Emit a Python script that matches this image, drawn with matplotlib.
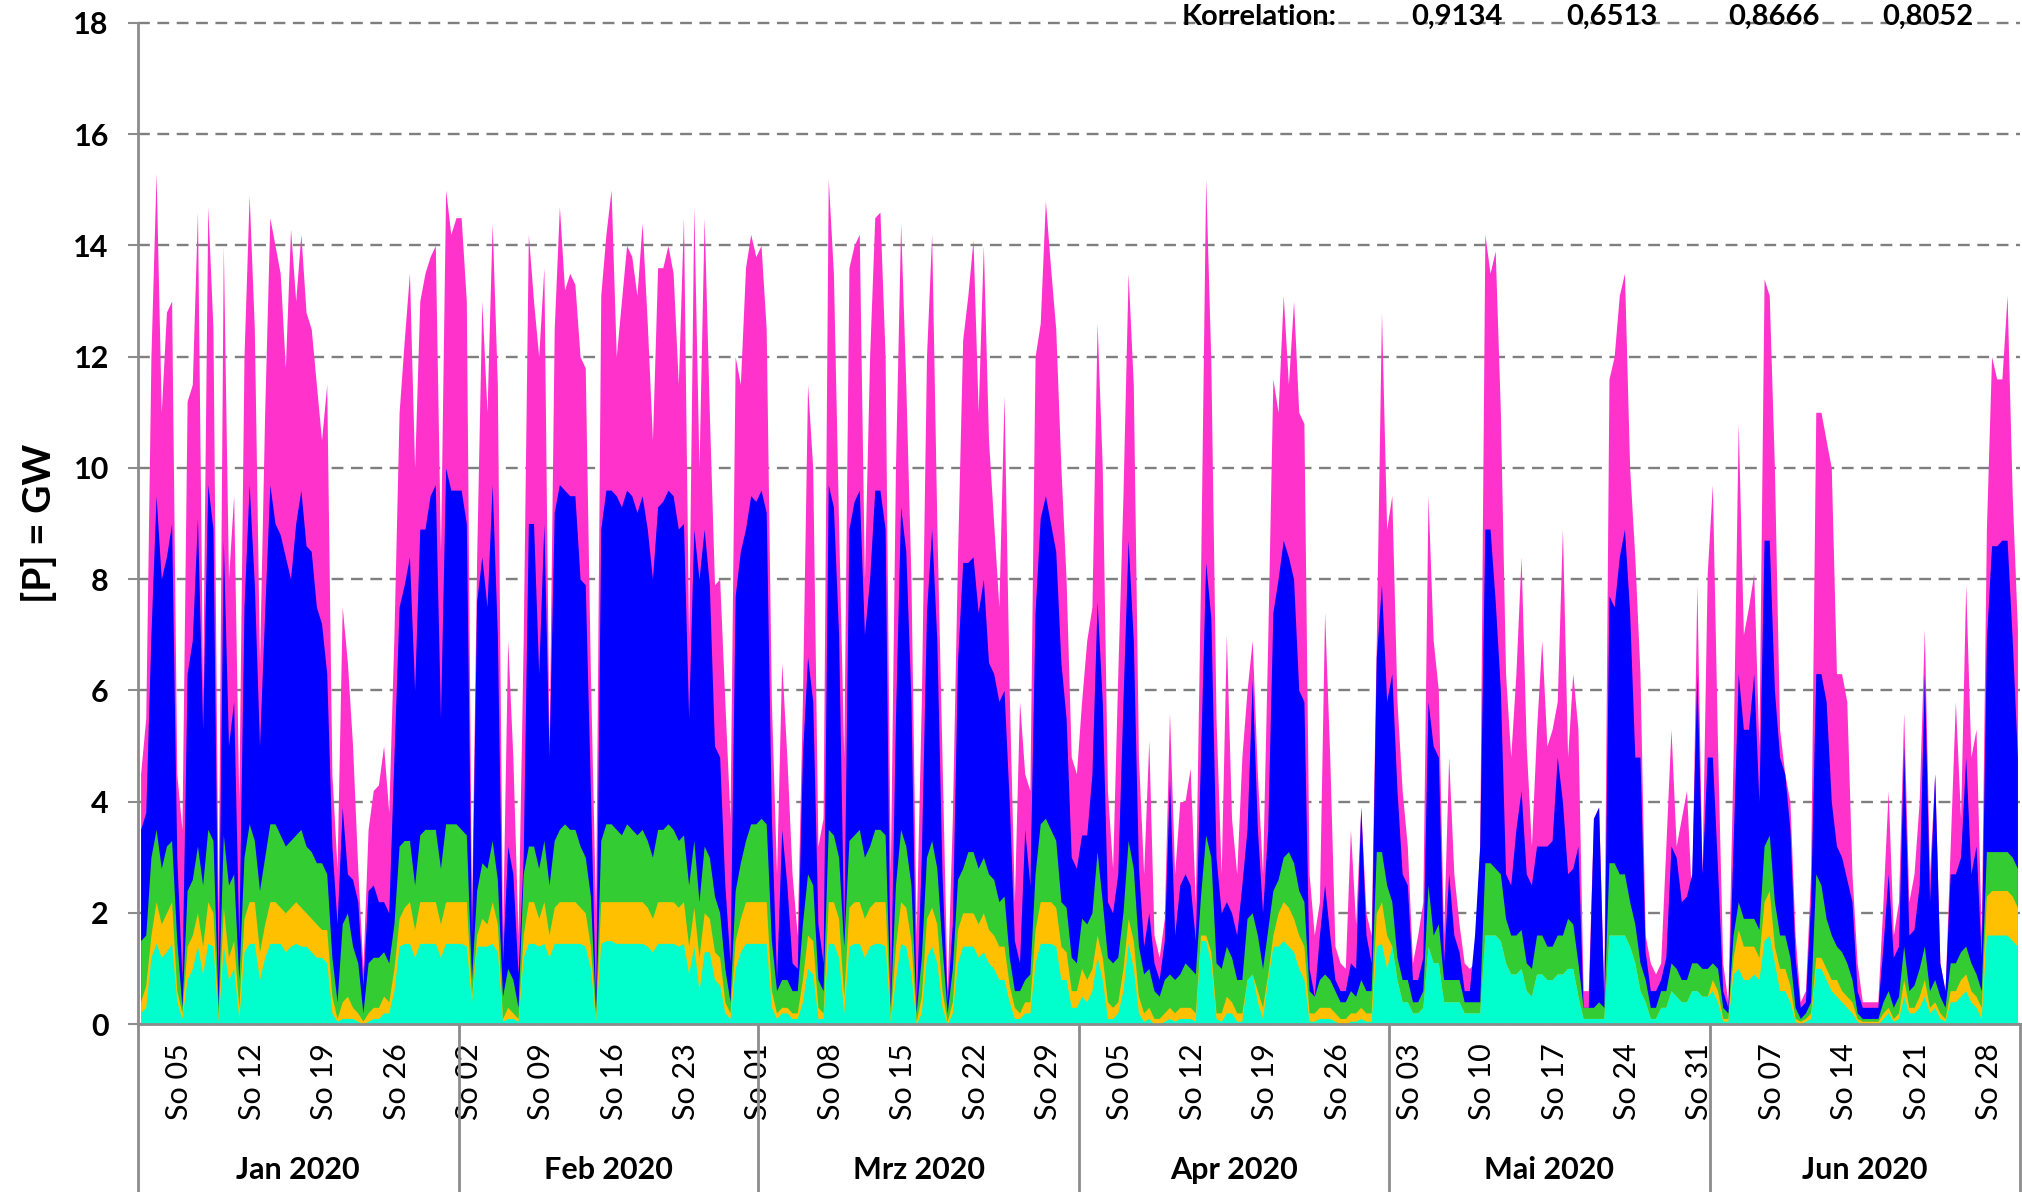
import matplotlib
matplotlib.use("Agg")
import matplotlib.dates as mdates
import numpy as np
import pandas as pd
from matplotlib import pyplot as plt
from matplotlib import transforms

plt.rcParams['font.family'] = ['Lato', 'DejaVu Sans']

# Obergrenzen der gestapelten Flaechen in GW, zwei Werte pro Tag (vormittags, nachmittags)
spitze_pink = [
    # Jan
    4.5, 5.5, 12.0, 15.3, 11.0, 12.8, 13.0, 4.5, 3.5, 11.2, 11.5, 14.6, 6.0, 14.7, 12.5, 2.0,
    14.0, 8.0, 9.5, 4.0, 12.0, 14.9, 12.5, 6.5, 11.0, 14.5, 14.0, 13.5, 11.8, 14.3, 13.0, 14.2,
    12.8, 12.5, 11.5, 10.5, 11.5, 4.5, 2.8, 7.5, 6.5, 5.0, 2.8, 1.0, 3.5, 4.2, 4.3, 5.0,
    3.8, 7.0, 11.0, 12.3, 13.5, 10.0, 13.0, 13.5, 13.8, 14.0, 8.5, 15.0, 14.2, 14.5,
    # Feb
    14.5, 13.0, 2.0, 8.4, 13.0, 11.0, 14.4, 11.5, 1.6, 6.9, 4.8, 1.6, 6.9, 14.2, 13.0, 12.0,
    13.6, 5.0, 12.5, 14.7, 13.2, 13.5, 13.3, 12.0, 11.8, 6.3, 2.0, 13.1, 14.2, 15.0, 12.0, 13.0,
    14.0, 13.8, 13.1, 14.4, 12.6, 10.5, 13.6, 13.6, 14.0, 13.5, 11.5, 14.5, 6.9, 14.7, 10.0, 14.5,
    11.0, 7.9, 8.0, 5.8, 3.7, 12.0, 11.5, 13.6, 14.2, 13.8,
    # Mrz
    14.0, 12.5, 5.8, 2.7, 6.5, 4.8, 2.7, 1.6, 5.8, 11.5, 10.0, 3.2, 3.7, 15.2, 13.5, 9.0,
    4.8, 13.6, 14.0, 14.2, 8.0, 12.0, 14.5, 14.6, 12.0, 2.7, 10.0, 14.4, 11.5, 8.0, 1.6, 5.8,
    12.0, 14.2, 9.0, 4.8, 0.6, 3.7, 8.4, 12.3, 13.1, 14.1, 11.0, 14.0, 10.5, 9.0, 7.5, 11.3,
    6.0, 2.2, 5.8, 4.5, 4.2, 12.0, 12.6, 14.8, 13.6, 12.5, 10.0, 8.0, 4.8, 4.5,
    # Apr
    5.8, 6.9, 7.5, 12.6, 10.0, 4.2, 2.8, 6.3, 9.5, 13.5, 11.5, 4.8, 2.7, 5.1, 1.6, 1.2,
    1.9, 5.6, 2.7, 4.0, 4.0, 4.6, 2.2, 8.0, 15.2, 11.9, 5.5, 2.7, 7.0, 3.7, 2.7, 4.8,
    6.0, 6.9, 4.5, 2.7, 6.9, 11.6, 11.0, 13.1, 11.5, 13.0, 11.0, 10.8, 2.7, 1.6, 2.2, 7.4,
    4.8, 1.4, 1.1, 1.0, 3.5, 1.8, 3.9, 2.0, 1.6, 6.9, 12.8, 8.9,
    # Mai
    9.5, 5.8, 4.2, 3.2, 1.1, 1.6, 2.2, 9.5, 6.9, 6.0, 1.6, 4.8, 2.7, 1.8, 1.1, 1.0,
    1.1, 3.2, 14.2, 13.5, 13.9, 11.0, 6.3, 4.8, 6.3, 8.4, 5.0, 3.2, 5.3, 6.9, 5.0, 5.3,
    5.8, 8.9, 4.8, 6.3, 5.3, 0.6, 0.6, 3.7, 3.9, 0.6, 11.6, 12.0, 13.1, 13.5, 10.0, 8.4,
    6.3, 1.6, 1.1, 0.9, 1.1, 3.2, 5.3, 3.2, 3.7, 4.2, 2.2, 7.9, 2.7, 8.1,
    # Jun
    9.7, 5.0, 1.1, 0.4, 4.8, 10.8, 7.0, 7.5, 8.1, 5.0, 13.4, 13.1, 10.0, 5.3, 4.5, 4.0,
    1.6, 0.4, 0.6, 2.7, 11.0, 11.0, 10.5, 10.0, 6.3, 6.3, 5.8, 2.7, 1.1, 0.4, 0.4, 0.4,
    0.4, 2.2, 4.2, 1.6, 2.2, 5.6, 2.2, 2.7, 4.0, 7.1, 2.7, 4.5, 1.1, 0.6, 3.2, 5.8,
    3.7, 7.9, 4.8, 5.3, 1.6, 8.9, 12.0, 11.6, 11.6, 13.1, 9.5, 7.1,
]

spitze_blau = [
    # Jan
    3.5, 3.8, 7.0, 9.5, 8.0, 8.4, 9.0, 3.0, 0.8, 6.3, 6.9, 9.1, 5.3, 9.7, 8.9, 0.8,
    8.7, 5.0, 5.8, 1.5, 7.5, 9.7, 7.9, 5.0, 7.4, 9.7, 9.0, 8.8, 8.4, 8.0, 9.0, 9.6,
    8.6, 8.5, 7.5, 7.2, 6.3, 3.2, 1.8, 3.9, 2.7, 2.6, 2.2, 0.7, 2.4, 2.5, 2.2, 2.2,
    2.0, 4.8, 7.5, 7.9, 8.4, 6.0, 8.9, 8.9, 9.5, 9.7, 5.5, 10.0, 9.6, 9.6,
    # Feb
    9.6, 9.0, 1.5, 7.6, 8.4, 7.5, 9.7, 7.0, 1.1, 3.2, 2.7, 0.9, 3.0, 9.0, 9.0, 6.3,
    9.0, 4.8, 9.2, 9.7, 9.6, 9.5, 9.5, 8.0, 7.9, 4.2, 0.3, 8.9, 9.6, 9.6, 9.5, 9.3,
    9.6, 9.5, 9.2, 9.5, 8.9, 8.0, 9.3, 9.4, 9.6, 9.5, 8.9, 9.0, 5.5, 8.9, 8.0, 8.9,
    7.9, 5.0, 4.8, 2.5, 1.1, 7.7, 8.5, 8.9, 9.5, 9.4,
    # Mrz
    9.6, 9.2, 3.7, 0.8, 3.5, 2.5, 1.1, 1.0, 4.8, 6.6, 5.8, 1.8, 1.1, 9.7, 9.3, 7.0,
    1.6, 8.9, 9.4, 9.6, 7.0, 8.0, 9.6, 9.6, 8.9, 0.4, 5.5, 9.3, 8.5, 5.8, 0.3, 3.0,
    7.4, 8.9, 6.9, 2.7, 0.4, 1.8, 6.5, 8.3, 8.3, 8.4, 7.4, 8.0, 6.5, 6.3, 5.8, 6.0,
    4.0, 1.5, 1.1, 3.5, 2.5, 7.4, 9.1, 9.5, 9.0, 8.5, 6.5, 5.5, 3.0, 2.8,
    # Apr
    3.4, 3.4, 4.5, 7.6, 5.8, 2.2, 2.0, 2.7, 5.8, 8.7, 6.9, 2.8, 1.4, 2.0, 1.1, 0.8,
    1.5, 4.4, 1.6, 2.5, 2.7, 2.5, 1.5, 4.8, 8.3, 7.3, 3.0, 2.0, 2.2, 2.0, 1.6, 2.5,
    3.5, 6.2, 3.5, 2.0, 3.5, 7.4, 8.0, 8.7, 8.4, 8.0, 6.0, 5.8, 1.0, 0.5, 1.6, 2.5,
    1.6, 0.8, 0.6, 0.6, 1.1, 1.0, 3.9, 1.6, 1.1, 6.6, 7.9, 5.8,
    # Mai
    6.3, 4.2, 2.7, 2.5, 0.8, 0.8, 1.2, 5.8, 5.0, 4.8, 1.1, 2.7, 1.6, 1.3, 0.6, 0.6,
    1.6, 3.2, 8.9, 8.9, 7.6, 6.0, 2.7, 2.5, 3.5, 4.2, 2.7, 2.5, 3.2, 3.2, 3.2, 3.3,
    4.8, 4.0, 2.7, 2.8, 3.2, 0.3, 0.3, 3.7, 3.9, 0.4, 7.7, 7.5, 8.4, 8.9, 7.4, 4.8,
    4.8, 1.3, 0.6, 0.6, 0.8, 1.2, 3.2, 3.0, 2.2, 2.3, 2.7, 6.3, 2.7, 4.8,
    # Jun
    4.8, 2.8, 0.6, 0.3, 3.2, 6.3, 5.3, 5.3, 6.3, 4.0, 8.7, 8.7, 6.0, 4.8, 4.5, 3.5,
    1.2, 0.3, 0.4, 2.2, 6.3, 6.3, 5.8, 4.0, 3.2, 3.0, 2.6, 2.2, 0.6, 0.3, 0.3, 0.3,
    0.3, 1.4, 2.7, 1.2, 1.4, 5.0, 1.6, 1.7, 2.5, 6.3, 2.2, 4.5, 1.1, 0.6, 2.7, 2.7,
    3.0, 4.8, 2.7, 3.2, 1.2, 6.9, 8.6, 8.6, 8.7, 8.7, 6.9, 4.8,
]

spitze_gruen = [
    # Jan
    1.5, 1.6, 3.0, 3.5, 2.8, 3.2, 3.3, 1.5, 0.3, 2.4, 2.6, 3.2, 2.5, 3.5, 3.3, 0.3,
    3.4, 2.5, 2.7, 0.8, 3.0, 3.6, 3.3, 2.4, 3.0, 3.6, 3.6, 3.4, 3.2, 3.3, 3.4, 3.5,
    3.2, 3.1, 2.9, 2.9, 2.7, 1.2, 0.4, 1.8, 2.0, 1.4, 1.1, 0.2, 1.1, 1.2, 1.2, 1.3,
    1.1, 1.8, 3.2, 3.3, 3.3, 2.5, 3.4, 3.5, 3.5, 3.5, 2.8, 3.6, 3.6, 3.6,
    # Feb
    3.5, 3.4, 0.8, 2.4, 2.9, 2.8, 3.3, 2.6, 0.5, 1.0, 0.8, 0.3, 2.7, 3.2, 3.2, 2.8,
    3.3, 2.5, 3.3, 3.5, 3.6, 3.5, 3.5, 3.2, 3.0, 2.3, 0.2, 3.3, 3.6, 3.6, 3.5, 3.4,
    3.6, 3.5, 3.4, 3.5, 3.3, 3.0, 3.5, 3.5, 3.6, 3.5, 3.3, 3.4, 2.5, 3.3, 2.2, 3.2,
    3.0, 2.3, 2.0, 1.0, 0.4, 2.4, 2.9, 3.3, 3.6, 3.6,
    # Mrz
    3.7, 3.6, 1.5, 0.6, 0.8, 0.8, 0.6, 0.6, 1.8, 2.7, 2.5, 0.8, 0.6, 3.5, 3.4, 3.0,
    1.4, 3.3, 3.4, 3.5, 3.0, 3.2, 3.5, 3.5, 3.4, 0.3, 2.5, 3.5, 3.2, 2.5, 0.2, 1.2,
    3.0, 3.3, 2.8, 1.4, 0.2, 1.0, 2.6, 2.8, 3.1, 3.1, 2.8, 3.0, 2.7, 2.6, 2.2, 2.3,
    1.2, 0.6, 0.6, 0.8, 0.9, 2.7, 3.6, 3.7, 3.5, 3.3, 2.2, 2.1, 1.2, 1.1,
    # Apr
    1.9, 1.8, 2.0, 3.1, 2.2, 1.2, 1.1, 1.2, 2.0, 3.3, 2.8, 1.4, 0.9, 1.0, 0.6, 0.5,
    0.8, 0.9, 0.8, 0.9, 1.1, 1.0, 0.9, 2.3, 3.4, 3.0, 1.1, 1.0, 1.4, 1.2, 0.8, 0.8,
    1.9, 2.0, 1.6, 1.0, 1.7, 2.4, 2.6, 3.0, 3.1, 2.9, 2.4, 2.2, 0.6, 0.5, 0.8, 0.9,
    0.8, 0.6, 0.4, 0.4, 0.6, 0.5, 0.8, 0.6, 0.6, 3.1, 3.1, 2.5,
    # Mai
    2.2, 1.2, 0.8, 0.8, 0.4, 0.4, 0.6, 2.5, 1.6, 1.8, 0.8, 0.8, 0.8, 0.8, 0.4, 0.4,
    0.4, 0.4, 2.9, 2.9, 2.8, 2.7, 1.9, 1.6, 1.6, 1.7, 1.1, 1.0, 1.6, 1.6, 1.4, 1.4,
    1.6, 1.6, 1.9, 1.8, 1.1, 0.3, 0.3, 0.3, 0.4, 0.3, 2.9, 2.9, 2.7, 2.7, 2.2, 1.8,
    1.1, 0.8, 0.3, 0.3, 0.6, 0.6, 1.1, 1.0, 0.8, 0.8, 1.1, 1.1, 1.0, 1.0,
    # Jun
    1.1, 1.0, 0.3, 0.2, 1.6, 2.2, 1.9, 1.9, 1.9, 1.7, 3.2, 3.4, 2.2, 1.6, 1.6, 1.2,
    0.3, 0.1, 0.2, 0.4, 2.7, 2.5, 1.9, 1.6, 1.4, 1.3, 1.1, 0.8, 0.2, 0.1, 0.1, 0.1,
    0.1, 0.4, 0.6, 0.3, 0.5, 1.4, 0.6, 0.7, 1.0, 1.4, 0.6, 0.8, 0.5, 0.3, 1.1, 1.1,
    1.3, 1.4, 1.1, 0.9, 0.6, 3.1, 3.1, 3.1, 3.1, 3.1, 3.0, 2.8,
]

spitze_orange = [
    # Jan
    0.4, 0.7, 1.6, 2.2, 1.8, 2.0, 2.2, 0.6, 0.2, 1.4, 1.6, 2.0, 1.4, 2.2, 2.0, 0.1,
    2.1, 1.2, 1.5, 0.3, 1.9, 2.2, 2.2, 1.3, 1.8, 2.2, 2.2, 2.1, 2.0, 2.1, 2.2, 2.1,
    2.0, 1.9, 1.8, 1.7, 1.7, 0.5, 0.1, 0.4, 0.5, 0.3, 0.2, 0.05, 0.2, 0.3, 0.3, 0.5,
    0.4, 1.0, 1.9, 2.1, 2.2, 1.7, 2.2, 2.2, 2.2, 2.2, 1.8, 2.2, 2.2, 2.2,
    # Feb
    2.2, 2.2, 0.5, 1.6, 1.9, 1.8, 2.2, 1.8, 0.1, 0.3, 0.2, 0.1, 1.6, 2.2, 2.2, 1.9,
    2.2, 1.6, 2.1, 2.2, 2.2, 2.2, 2.2, 2.1, 2.0, 1.4, 0.1, 2.2, 2.2, 2.2, 2.2, 2.2,
    2.2, 2.2, 2.2, 2.2, 2.1, 1.9, 2.2, 2.2, 2.2, 2.2, 2.1, 2.2, 1.4, 2.1, 1.2, 2.0,
    1.9, 1.3, 1.2, 0.4, 0.2, 1.5, 1.9, 2.2, 2.2, 2.2,
    # Mrz
    2.2, 2.2, 0.6, 0.2, 0.3, 0.3, 0.2, 0.2, 0.8, 1.6, 1.5, 0.3, 0.2, 2.2, 2.2, 1.9,
    0.5, 2.1, 2.2, 2.2, 1.9, 2.1, 2.2, 2.2, 2.2, 0.1, 1.4, 2.2, 2.1, 1.5, 0.05, 0.5,
    1.9, 2.1, 1.8, 0.6, 0.05, 0.4, 1.7, 2.0, 2.0, 2.0, 1.8, 2.0, 1.7, 1.6, 1.4, 1.4,
    0.7, 0.3, 0.2, 0.4, 0.4, 1.7, 2.2, 2.2, 2.2, 2.1, 1.4, 1.3, 0.6, 0.6,
    # Apr
    1.0, 0.8, 1.0, 1.6, 1.2, 0.4, 0.3, 0.4, 1.0, 1.9, 1.5, 0.5, 0.2, 0.3, 0.1, 0.1,
    0.2, 0.3, 0.2, 0.3, 0.3, 0.3, 0.2, 1.6, 1.6, 1.3, 0.2, 0.2, 0.5, 0.4, 0.2, 0.2,
    0.8, 0.9, 0.6, 0.3, 0.9, 1.6, 2.0, 2.2, 2.1, 1.9, 1.6, 1.4, 0.2, 0.2, 0.3, 0.3,
    0.3, 0.2, 0.1, 0.1, 0.2, 0.2, 0.3, 0.2, 0.2, 2.0, 2.2, 1.6,
    # Mai (keine orange Flaeche sichtbar)
    1.4, 0.8, 0.4, 0.4, 0.2, 0.2, 0.3, 1.4, 1.1, 1.1, 0.4, 0.4, 0.4, 0.4, 0.2, 0.2,
    0.2, 0.2, 1.6, 1.6, 1.6, 1.5, 1.1, 0.9, 0.9, 1.0, 0.6, 0.5, 0.9, 0.9, 0.8, 0.8,
    0.9, 0.9, 1.0, 1.0, 0.5, 0.1, 0.1, 0.1, 0.1, 0.1, 1.6, 1.6, 1.6, 1.6, 1.4, 1.1,
    0.6, 0.4, 0.1, 0.1, 0.3, 0.3, 0.6, 0.5, 0.4, 0.4, 0.6, 0.6, 0.5, 0.5,
    # Jun
    0.8, 0.6, 0.1, 0.1, 1.2, 1.7, 1.4, 1.4, 1.4, 1.2, 2.2, 2.4, 1.4, 1.0, 1.0, 0.7,
    0.1, 0.05, 0.1, 0.2, 1.2, 1.2, 1.0, 0.8, 0.8, 0.6, 0.5, 0.4, 0.1, 0.05, 0.05, 0.05,
    0.05, 0.2, 0.3, 0.1, 0.2, 0.8, 0.3, 0.3, 0.5, 0.8, 0.3, 0.4, 0.2, 0.1, 0.6, 0.6,
    0.8, 0.9, 0.6, 0.5, 0.3, 2.3, 2.4, 2.4, 2.4, 2.4, 2.3, 2.1,
]

spitze_tuerkis = [
    # Jan
    0.2, 0.3, 1.2, 1.45, 1.2, 1.3, 1.45, 0.4, 0.1, 0.8, 1.0, 1.4, 0.9, 1.45, 1.4, 0.05,
    1.4, 0.8, 1.0, 0.1, 1.3, 1.45, 1.45, 0.8, 1.2, 1.45, 1.45, 1.45, 1.3, 1.4, 1.45, 1.4,
    1.4, 1.3, 1.2, 1.2, 1.1, 0.2, 0.05, 0.1, 0.1, 0.1, 0.05, 0.0, 0.05, 0.1, 0.1, 0.2,
    0.2, 0.6, 1.4, 1.45, 1.45, 1.2, 1.45, 1.45, 1.45, 1.45, 1.2, 1.45, 1.45, 1.45,
    # Feb
    1.45, 1.4, 0.4, 1.4, 1.4, 1.4, 1.45, 1.3, 0.05, 0.1, 0.1, 0.05, 1.2, 1.45, 1.45, 1.4,
    1.45, 1.2, 1.45, 1.45, 1.45, 1.45, 1.45, 1.45, 1.4, 1.0, 0.05, 1.45, 1.5, 1.5, 1.45, 1.45,
    1.45, 1.45, 1.45, 1.45, 1.4, 1.3, 1.45, 1.45, 1.45, 1.45, 1.4, 1.45, 0.9, 1.4, 0.6, 1.3,
    1.3, 0.8, 0.7, 0.2, 0.1, 1.0, 1.3, 1.45, 1.45, 1.45,
    # Mrz
    1.45, 1.45, 0.3, 0.1, 0.2, 0.2, 0.1, 0.1, 0.4, 1.0, 0.9, 0.1, 0.1, 1.45, 1.45, 1.2,
    0.2, 1.4, 1.45, 1.45, 1.2, 1.4, 1.45, 1.45, 1.4, 0.05, 0.8, 1.45, 1.4, 0.9, 0.0, 0.2,
    1.2, 1.4, 1.1, 0.3, 0.0, 0.2, 1.1, 1.4, 1.4, 1.4, 1.2, 1.3, 1.1, 1.0, 0.8, 0.8,
    0.4, 0.1, 0.1, 0.2, 0.2, 1.1, 1.45, 1.45, 1.45, 1.4, 0.8, 0.8, 0.3, 0.3,
    # Apr
    0.5, 0.4, 0.6, 1.2, 0.8, 0.1, 0.1, 0.2, 0.6, 1.45, 1.0, 0.2, 0.05, 0.1, 0.0, 0.0,
    0.05, 0.1, 0.05, 0.1, 0.1, 0.1, 0.05, 1.5, 1.5, 1.1, 0.1, 0.05, 0.2, 0.2, 0.05, 0.05,
    0.8, 0.9, 0.4, 0.1, 0.8, 1.4, 1.4, 1.5, 1.4, 1.3, 1.0, 0.8, 0.05, 0.05, 0.1, 0.1,
    0.1, 0.05, 0.0, 0.0, 0.05, 0.05, 0.1, 0.05, 0.05, 1.4, 1.45, 1.0,
    # Mai
    1.4, 0.8, 0.4, 0.4, 0.2, 0.2, 0.3, 1.4, 1.1, 1.1, 0.4, 0.4, 0.4, 0.4, 0.2, 0.2,
    0.2, 0.2, 1.6, 1.6, 1.6, 1.5, 1.1, 0.9, 0.9, 1.0, 0.6, 0.5, 0.9, 0.9, 0.8, 0.8,
    0.9, 0.9, 1.0, 1.0, 0.5, 0.1, 0.1, 0.1, 0.1, 0.1, 1.6, 1.6, 1.6, 1.6, 1.4, 1.1,
    0.6, 0.4, 0.1, 0.1, 0.3, 0.3, 0.6, 0.5, 0.4, 0.4, 0.6, 0.6, 0.5, 0.5,
    # Jun
    0.6, 0.4, 0.05, 0.05, 0.9, 1.0, 0.8, 0.8, 0.9, 0.8, 1.5, 1.6, 1.1, 0.6, 0.6, 0.4,
    0.05, 0.0, 0.05, 0.1, 1.0, 1.0, 0.8, 0.6, 0.5, 0.4, 0.3, 0.2, 0.05, 0.0, 0.0, 0.0,
    0.0, 0.1, 0.2, 0.05, 0.1, 0.5, 0.2, 0.2, 0.3, 0.5, 0.2, 0.3, 0.1, 0.05, 0.4, 0.4,
    0.5, 0.6, 0.4, 0.3, 0.1, 1.6, 1.6, 1.6, 1.6, 1.6, 1.5, 1.4,
]

monate = ["Jan 2020", "Feb 2020", "Mrz 2020", "Apr 2020", "Mai 2020", "Jun 2020"]
monatsgrenzen = ["2020-01-01", "2020-02-01", "2020-03-01", "2020-04-01",
                 "2020-05-01", "2020-06-01", "2020-07-01"]
korrelation = ["0,9134", "0,6513", "0,8666", "0,8052"]

reihen = [spitze_pink, spitze_blau, spitze_gruen, spitze_orange, spitze_tuerkis]
for r in reihen:
    assert len(r) == len(spitze_pink), len(r)

zeit = pd.date_range("2020-01-01 06:00", periods=len(spitze_pink), freq="12h")
farben = ["#FF33CC", "#0000FF", "#33CC33", "#FFC000", "#00FFCC"]
grau = "#8C8C8C"

fig = plt.figure(figsize=(20.22, 11.92), dpi=100)
ax = fig.add_axes([138 / 2022, 1 - 1024 / 1192, 1882 / 2022, 1001 / 1192])

# jede Flaeche von 0 bis zu ihrer Obergrenze, von oben nach unten uebermalt
for werte, farbe in zip(reihen, farben):
    ax.fill_between(zeit, 0, werte, color=farbe, linewidth=0)

ax.set_xlim(pd.Timestamp("2020-01-01"), pd.Timestamp("2020-07-01"))
ax.set_ylim(0, 18)
ax.set_yticks(np.arange(0, 19, 2))
ax.grid(axis="y", color="#7F7F7F", linestyle=(0, (5, 3.2)), linewidth=1.7)
ax.set_axisbelow(True)
for gl in ax.get_ygridlines():
    gl.set_clip_on(False)

for s in ["top", "right"]:
    ax.spines[s].set_visible(False)
for s in ["left", "bottom"]:
    ax.spines[s].set_color(grau)
    ax.spines[s].set_linewidth(2)

ax.xaxis.set_major_locator(mdates.WeekdayLocator(byweekday=mdates.SU))
ax.xaxis.set_major_formatter(mdates.DateFormatter("So %d"))
ax.tick_params(axis="x", length=0, pad=14, labelsize=22, labelrotation=90)
ax.tick_params(axis="y", length=7, width=1.5, color=grau, pad=14, labelsize=22)
for lbl in ax.get_yticklabels():
    lbl.set_fontweight("bold")

# Monatsraster unterhalb der Achse
trans = transforms.blended_transform_factory(ax.transData, ax.transAxes)
grenzen = [mdates.date2num(pd.Timestamp(g)) for g in monatsgrenzen]
for g in grenzen:
    ax.plot([g, g], [0, -0.175], transform=trans, color=grau, lw=2, clip_on=False)
for i, name in enumerate(monate):
    mitte = (grenzen[i] + grenzen[i + 1]) / 2
    ax.text(mitte, -0.146, name, transform=trans, ha="center", va="center",
            fontsize=22, fontweight="bold")

fig.text(39 / 2022, 1 - 523 / 1192, "[P] = GW", rotation=90, ha="center", va="center",
         fontsize=28, fontweight="bold")

fig.text(1182 / 2022, 1 - 17 / 1192, "Korrelation:", ha="left", va="center",
         fontsize=21, fontweight="bold")
for xpos, wert in zip([1457, 1612, 1774, 1928], korrelation):
    fig.text(xpos / 2022, 1 - 17 / 1192, wert, ha="center", va="center",
             fontsize=21, fontweight="bold")

fig.savefig("out.png", dpi=100)
